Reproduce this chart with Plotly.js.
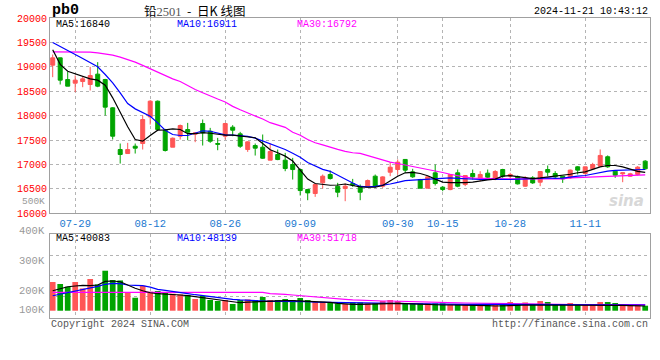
<!DOCTYPE html>
<html>
<head>
<meta charset="utf-8">
<script src="https://cdn.plot.ly/plotly-3.0.1.min.js"></script>
<style>html,body{margin:0;padding:0;background:#fff;}#chart{width:660px;height:360px;}</style>
</head>
<body>
<div id="chart"></div>
<script>
// ---- data ----
const dates = ['07-24','07-25','07-26','07-29','07-30','07-31','08-01','08-02','08-05','08-06',
'08-07','08-08','08-09','08-12','08-13','08-14','08-15','08-16','08-19','08-20',
'08-21','08-22','08-23','08-26','08-27','08-28','08-29','08-30','09-02','09-03',
'09-04','09-05','09-06','09-09','09-10','09-11','09-12','09-13','09-18','09-19',
'09-20','09-23','09-24','09-25','09-26','09-27','09-30','10-08','10-09','10-10',
'10-11','10-14','10-15','10-16','10-17','10-18','10-21','10-22','10-23','10-24',
'10-25','10-28','10-29','10-30','10-31','11-01','11-04','11-05','11-06','11-07',
'11-08','11-11','11-12','11-13','11-14','11-15','11-18','11-19','11-20','11-21'];

const openP = [19034,19184,18740,18665,18699,18638,18850,18740,18160,17306,
17224,17374,17429,17975,18296,17702,17354,17579,17716,17620,
17839,17682,17429,17579,17764,17627,17306,17388,17354,17088,
17204,17088,16999,16896,16487,16405,16624,16794,16555,16507,
16610,16535,16535,16760,16555,16842,16897,17103,16849,16692,
16514,16828,16535,16486,16829,16589,16815,16726,16822,16692,
16897,16760,16747,16555,16726,16637,16897,16815,16760,16726,
16952,16815,16911,16966,17158,16863,16808,16760,16795,17068];
const highP = [19253,19190,18900,18822,18795,19000,19096,18754,18174,17429,
17443,17429,18003,18317,18310,17729,17552,17818,17852,17661,
17921,17750,17545,17852,17805,17668,17477,17429,17614,17429,
17306,17238,17135,16896,16501,16610,16794,16876,16624,16610,
16705,16590,16692,16794,16760,17050,17103,17110,16911,16705,
16747,17000,16555,16795,16897,16781,16897,16863,16897,16884,
16911,16829,16774,16760,16760,16856,16979,16863,16760,16897,
16966,16952,17034,17308,17185,16863,16829,16829,16966,17089];
const lowP = [18788,18638,18604,18481,18583,18515,18583,18003,17511,17019,
17224,17224,17306,17818,17702,17265,17354,17511,17497,17457,
17388,17443,17292,17511,17579,17340,17258,17183,17115,17088,
17088,16862,16691,16364,16268,16337,16507,16691,16330,16248,
16541,16268,16521,16521,16521,16760,16794,16829,16726,16514,
16514,16569,16452,16473,16534,16555,16692,16658,16692,16678,
16726,16705,16589,16541,16603,16555,16760,16705,16623,16705,
16795,16795,16897,16966,16932,16726,16637,16747,16774,16897];
const closeP = [19184,18727,18604,18727,18754,18822,18604,18174,17579,17204,
17306,17334,17921,18296,17716,17286,17538,17798,17661,17648,
17648,17477,17415,17839,17702,17374,17463,17334,17128,17265,
17101,16917,16896,16466,16418,16589,16760,16712,16432,16555,
16576,16432,16671,16555,16746,16944,17048,16884,16747,16514,
16747,16610,16487,16795,16555,16774,16747,16795,16740,16856,
16760,16795,16603,16726,16623,16856,16842,16747,16705,16884,
16884,16952,17000,17185,16952,16781,16829,16808,16945,16911];

const ma5 = [19350,19050,18910,18857,18809,18754,18727,18624,18365,18057,
17771,17511,17477,17593,17702,17710,17729,17716,17630,17630,
17651,17640,17615,17603,17603,17585,17560,17548,17430,17300,
17240,17171,17070,16880,16700,16610,16590,16575,16580,16600,
16570,16540,16534,16534,16570,16660,16760,16830,16840,16815,
16770,16700,16640,16630,16623,16630,16640,16670,16685,16700,
16760,16770,16750,16730,16712,16725,16740,16755,16770,16800,
16830,16850,16900,16950,16979,16979,16950,16900,16860,16840];
const ma10 = [19500,19423,19341,19253,19171,19082,19000,18843,18672,18467,
18249,18139,18057,17989,17853,17702,17614,17593,17593,17640,
17690,17680,17640,17605,17600,17590,17575,17540,17480,17420,
17360,17308,17230,17150,17040,16970,16900,16860,16780,16690,
16620,16550,16540,16550,16570,16600,16635,16670,16680,16690,
16692,16700,16720,16725,16715,16705,16695,16692,16692,16700,
16695,16692,16695,16700,16705,16715,16726,16715,16720,16745,
16760,16774,16805,16840,16863,16880,16884,16884,16884,16897];
const ma30 = [19307,19307,19307,19307,19307,19300,19287,19266,19239,19198,
19150,19096,19030,18960,18880,18810,18754,18700,18617,18536,
18470,18400,18340,18280,18190,18120,18060,17993,17930,17856,
17810,17760,17660,17600,17510,17445,17400,17350,17310,17270,
17240,17226,17180,17130,17080,17048,17020,16990,16970,16940,
16910,16880,16835,16800,16765,16740,16722,16715,16710,16706,
16705,16705,16705,16705,16705,16705,16705,16705,16705,16725,
16730,16740,16750,16760,16760,16765,16770,16775,16780,16785];

const volume = [201000,187000,168000,201000,156000,222000,184000,280000,215000,212000,
128000,91000,175000,133000,138000,128000,119000,114000,110000,82000,
103000,75000,68000,75000,47000,75000,79000,75000,96000,75000,
75000,82000,75000,89000,75000,63000,63000,58000,51000,47000,
58000,58000,51000,51000,68000,75000,68000,51000,51000,51000,
51000,51000,51000,44000,44000,44000,44000,44000,44000,44000,
51000,61000,44000,58000,44000,68000,61000,44000,44000,54000,
44000,44000,44000,61000,61000,54000,44000,44000,44000,35000];
const vma5 = [140000,155000,168000,173000,178000,176000,180000,205000,208000,203000,
180000,157000,140000,126000,119000,117000,114000,110000,105000,98000,
91000,84000,78000,72000,62000,56000,60000,63000,66000,68000,
68000,70000,70000,68000,66000,63000,61000,58000,52000,47000,
45000,45000,47000,47000,47000,50000,52000,50000,47000,45000,
44000,42000,40000,40000,40000,38000,38000,38000,36000,33000,
33000,36000,38000,40000,40000,42000,42000,40000,40000,40000,
38000,38000,38000,38000,40000,40000,38000,36000,35000,33000];
const vma10 = [105000,115000,125000,138000,150000,160000,170000,185000,192000,190000,
180000,177000,175000,165000,150000,142000,136000,130000,120000,112000,
105000,97000,92000,86000,80000,76000,72000,68000,66000,65000,
65000,66000,66000,66000,64000,60000,59000,59000,59000,58000,
56000,54000,52000,52000,52000,52000,52000,51000,50000,48000,
47000,47000,45000,45000,45000,45000,45000,45000,45000,44000,
42000,40000,40000,40000,40000,40000,40000,40000,40000,40000,
40000,40000,40000,40000,40000,40000,40000,40000,40000,40000];
const vma30 = [129000,129000,129000,129000,129000,129000,129000,129000,129000,129000,
129000,129000,129000,129000,129000,129000,129000,129000,129000,129000,
129000,129000,129000,129000,129000,129000,129000,129000,129000,120000,
119000,115000,110000,105000,100000,98000,92000,87000,83000,80000,
76000,73000,70000,70000,68000,68000,66000,65000,64000,63000,
63000,61000,58000,56000,55000,54000,53000,52000,50000,49000,
48000,47000,47000,46000,46000,45000,44000,43000,42000,42000,
42000,42000,42000,42000,42000,42000,42000,42000,42000,42000];

const dateTicks = ['07-29','08-12','08-26','09-09','09-30','10-15','10-28','11-11'];
const priceTicks = [16000,16500,17000,17500,18000,18500,19000,19500,20000];
const volTickText = ['400K','300K','200K','100K'];
const legendPrice = ['MA5:16840','MA10:16911','MA30:16792'];
const legendVol = ['MA5:40083','MA10:48139','MA30:51718'];

// ---- build ----
const xs = dates.map((d, i) => i);
const tickIdx = dateTicks.map(d => dates.indexOf(d));
const RED = '#ff5656', GREEN = '#00a400';
const volColors = closeP.map((c, i) => c >= openP[i] ? RED : GREEN);
const MONO = 'Liberation Mono, DejaVu Sans Mono, monospace';
const GRID = '#b4b4b4', BORDER = '#a0a0a0';

const line = (y, color, xa, ya) => ({type:'scatter', mode:'lines', x:xs, y:y, xaxis:xa, yaxis:ya,
  line:{color:color, width:1.2}, hoverinfo:'skip'});

const traces = [
  {type:'candlestick', x:xs, open:openP, high:highP, low:lowP, close:closeP, xaxis:'x', yaxis:'y',
   increasing:{line:{color:RED, width:1}, fillcolor:RED},
   decreasing:{line:{color:GREEN, width:1}, fillcolor:GREEN},
   whiskerwidth:0, hoverinfo:'skip'},
  line(ma30, '#ff00ff', 'x', 'y'),
  line(ma10, '#0000ff', 'x', 'y'),
  line(ma5, '#000000', 'x', 'y'),
  {type:'bar', x:xs, y:volume, xaxis:'x2', yaxis:'y2', marker:{color:volColors, line:{width:0}}, hoverinfo:'skip'},
  line(vma30, '#ff00ff', 'x2', 'y2'),
  line(vma10, '#0000ff', 'x2', 'y2'),
  line(vma5, '#000000', 'x2', 'y2')
];

// paper coordinate helpers (plot area: x 50..650 px, y 18..318 px)
const px = x => (x - 50) / 600;
const py = y => (318 - y) / 300;
const ann = (text, x, y, anchor, color, size, extra) => Object.assign({
  text:text, xref:'paper', yref:'paper', x:px(x), y:py(y), xanchor:anchor, yanchor:'middle',
  showarrow:false, font:{family:MONO, size:size, color:color}}, extra || {});

const annotations = [
  ann('<b>pb0</b>', 50, 10, 'left', '#000', 15),
  ann('铅<span style="font-family:Liberation Serif;color:#555">2501</span>&nbsp;&nbsp;-&nbsp;&nbsp;日K&nbsp;线图', 142, 10, 'left', '#000', 12.5,
      {font:{family:'Noto Sans CJK SC, sans-serif', size:12.5, color:'#000'}}),
  ann('2024-11-21 10:43:12', 650, 12, 'right', '#000', 10),
  ann(legendPrice[0], 54, 24, 'left', '#000', 10),
  ann(legendPrice[1], 175, 24, 'left', '#0000ff', 10),
  ann(legendPrice[2], 295, 24, 'left', '#ff00ff', 10),
  ann(legendVol[0], 54, 238, 'left', '#000', 10),
  ann(legendVol[1], 175, 238, 'left', '#0000ff', 10),
  ann(legendVol[2], 295, 238, 'left', '#ff00ff', 10),
  ann('500K', 47, 201, 'right', '#999', 9.5),
  ann(volTickText[0], 47, 231, 'right', '#999', 10.5),
  ann(volTickText[1], 47, 261, 'right', '#999', 10.5),
  ann(volTickText[2], 47, 291, 'right', '#999', 10.5),
  ann(volTickText[3], 47, 310, 'right', '#999', 10.5),
  ann('Copyright 2024 SINA.COM', 49, 324, 'left', '#555', 10),
  ann('http://finance.sina.com.cn', 650, 324, 'right', '#555', 10),
  ann('<i><b>sina</b></i>', 626, 201, 'center', '#dcdcdc', 15, {font:{family:'DejaVu Sans, sans-serif', size:15, color:'#d8d8d8'}})
];

const axisCommon = {showgrid:true, gridcolor:GRID, griddash:'dot', gridwidth:1, zeroline:false,
  showline:true, linecolor:BORDER, linewidth:1, mirror:true, ticks:'', fixedrange:true};

const layout = {
  width:660, height:360, margin:{l:50, r:10, t:18, b:42},
  paper_bgcolor:'#fff', plot_bgcolor:'#fff', showlegend:false,
  boxgap:0.24, bargap:0.24,
  xaxis:Object.assign({}, axisCommon, {domain:[0,1], anchor:'y', range:[-0.36, 79.64],
    tickmode:'array', tickvals:tickIdx, ticktext:dateTicks,
    tickfont:{family:MONO, size:10.5, color:'#1a78d0'}, rangeslider:{visible:false}}),
  yaxis:Object.assign({}, axisCommon, {domain:[0.349,1], anchor:'x', range:[16000,20000],
    tickmode:'array', tickvals:priceTicks, ticktext:priceTicks.map(String),
    tickfont:{family:MONO, size:10, color:'#ff0000'}}),
  xaxis2:Object.assign({}, axisCommon, {domain:[0,1], anchor:'y2', matches:'x', range:[-0.36, 79.64],
    tickmode:'array', tickvals:tickIdx, showticklabels:false, rangeslider:{visible:false}}),
  yaxis2:Object.assign({}, axisCommon, {domain:[0,0.279], anchor:'x2', range:[-51000, 535000],
    tickmode:'array', tickvals:[101000,245000,390000], showticklabels:false}),
  annotations:annotations
};

Plotly.newPlot('chart', traces, layout, {staticPlot:true, displayModeBar:false});
</script>
</body>
</html>
